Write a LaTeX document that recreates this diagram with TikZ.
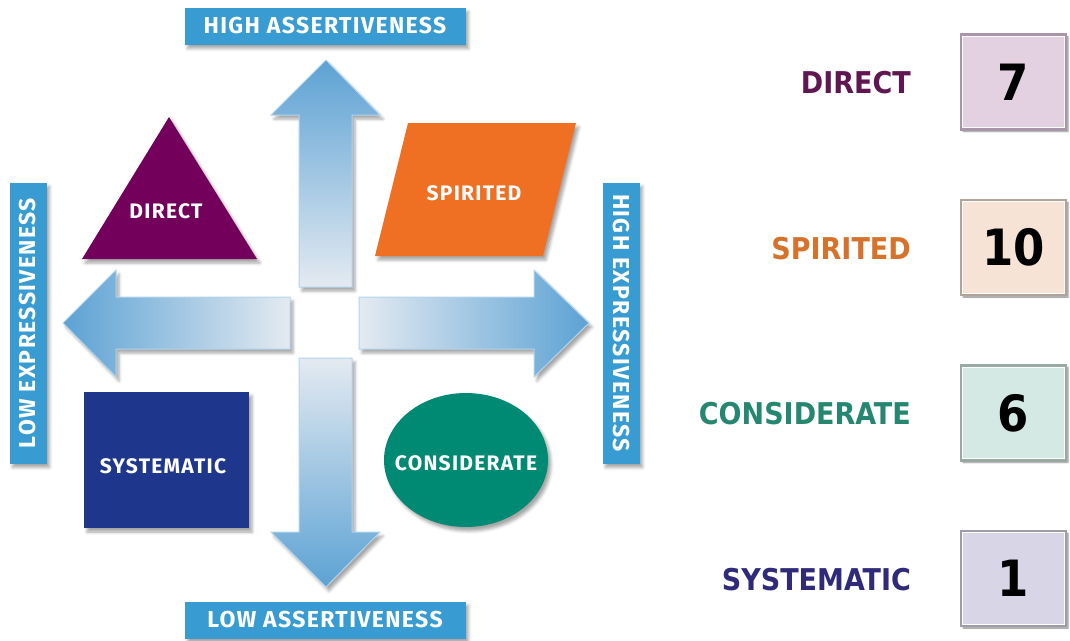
\documentclass[tikz,border=0pt]{standalone}
\usepackage{fontspec}
\usetikzlibrary{calc,shadows.blur}
\newfontfamily\quadfont[LetterSpace=6]{Fira Sans}
\newfontfamily\panelfont{DejaVu Sans Condensed}

\definecolor{axisblue}{RGB}{56,156,210}
\definecolor{arrowdark}{RGB}{92,162,212}
\definecolor{arrowmid}{RGB}{150,190,222}
\definecolor{arrowlight}{RGB}{228,234,241}
\definecolor{arrowedge}{RGB}{178,212,236}
\definecolor{directcol}{RGB}{115,0,90}
\definecolor{spiritcol}{RGB}{240,112,35}
\definecolor{systcol}{RGB}{30,55,140}
\definecolor{considcol}{RGB}{0,137,115}
% right panel: text, face and edge per type
\definecolor{textdir}{RGB}{96,22,80}
\definecolor{facedir}{RGB}{227,209,225}
\definecolor{edgedir}{RGB}{168,150,168}
\definecolor{textspi}{RGB}{214,114,42}
\definecolor{facespi}{RGB}{246,227,214}
\definecolor{edgespi}{RGB}{178,162,152}
\definecolor{textcon}{RGB}{38,135,112}
\definecolor{facecon}{RGB}{212,233,227}
\definecolor{edgecon}{RGB}{152,170,162}
\definecolor{textsys}{RGB}{47,42,122}
\definecolor{facesys}{RGB}{216,213,231}
\definecolor{edgesys}{RGB}{158,155,172}

\tikzset{
  softshadow/.style={blur shadow={shadow xshift=3pt,shadow yshift=-4pt,
      shadow blur radius=3pt,shadow opacity=35}},
  axislabel/.style={fill=axisblue,text=white,inner sep=0pt,
    minimum width=281pt,minimum height=37pt,softshadow,
    font=\quadfont\bfseries\fontsize{23}{23}\selectfont},
  bigarrow/.style={draw=arrowedge,line width=1pt,softshadow},
  quad/.style={softshadow},
  quadtext/.style={text=white,font=\quadfont\bfseries\fontsize{21}{21}\selectfont},
  typelabel/.style={anchor=east,inner sep=0pt,
    font=\panelfont\bfseries\fontsize{30}{30}\selectfont},
  scorebox/.style={line width=2.5pt,minimum width=105pt,minimum height=95pt,
    inner sep=0pt,font=\panelfont\bfseries\fontsize{50}{50}\selectfont,
    blur shadow={shadow xshift=2pt,shadow yshift=-2pt,shadow blur radius=1.5pt,
      shadow opacity=45}}
}

\begin{document}
\begin{tikzpicture}[x=1pt,y=-1pt]
  \useasboundingbox (0,0) rectangle (1070,640);

  % the four axis arrows
  \path[bigarrow,top color=arrowdark,bottom color=arrowlight]
    (326,60) -- (380,115) -- (352,115) -- (352,287) -- (299,287)
    -- (299,115) -- (271,115) -- cycle;
  \path[bigarrow,top color=arrowlight,bottom color=arrowdark]
    (326,587) -- (380,532) -- (352,532) -- (352,358) -- (299,358)
    -- (299,532) -- (271,532) -- cycle;
  \path[bigarrow,left color=arrowdark,right color=arrowlight]
    (63,323) -- (116,270) -- (116,297) -- (290,297) -- (290,349)
    -- (116,349) -- (116,377) -- cycle;
  \path[bigarrow,left color=arrowlight,right color=arrowdark]
    (589,323) -- (534,270) -- (534,297) -- (359,297) -- (359,349)
    -- (534,349) -- (534,377) -- cycle;

  % axis labels
  \node[axislabel] (highA) at (325,26) {HIGH ASSERTIVENESS};
  \node[axislabel] (lowA) at (325,620) {LOW ASSERTIVENESS};
  \node[axislabel,rotate=90] (lowE) at (28,323) {LOW EXPRESSIVENESS};
  \node[axislabel,rotate=-90] (highE) at (621,323) {HIGH EXPRESSIVENESS};

  % quadrant shapes
  \path[quad,fill=directcol] (169,117) -- (257,259) -- (82,259) -- cycle;
  \node[quadtext] (direct) at (166,211) {DIRECT};
  \path[quad,fill=spiritcol] (408,123) -- (576,123) -- (543,256) -- (375,256) -- cycle;
  \node[quadtext] (spirited) at (474,193) {SPIRITED};
  \path[quad,fill=systcol] (84,392) rectangle (249,528);
  \node[quadtext] (systematic) at (163,466) {SYSTEMATIC};
  \path[quad,fill=considcol] (466,460) ellipse [x radius=82,y radius=67];
  \node[quadtext] (considerate) at (466,463) {CONSIDERATE};

  % scores
  \foreach \i/\lbl/\key/\val in {1/DIRECT/dir/7,2/SPIRITED/spi/10,
      3/CONSIDERATE/con/6,4/SYSTEMATIC/sys/1}{
    \node[scorebox,fill=face\key,draw=edge\key] (score-\i)
      at (1013.5,{82+165.5*(\i-1)}) {\val};
    \draw[white,line width=1.2pt] ($(score-\i.north west)+(3,3)$)
      rectangle ($(score-\i.south east)+(-3,-3)$);
    \node[typelabel,text=text\key] (type-\i) at (911,{83+165.5*(\i-1)}) {\lbl};
  }
\end{tikzpicture}
\end{document}
